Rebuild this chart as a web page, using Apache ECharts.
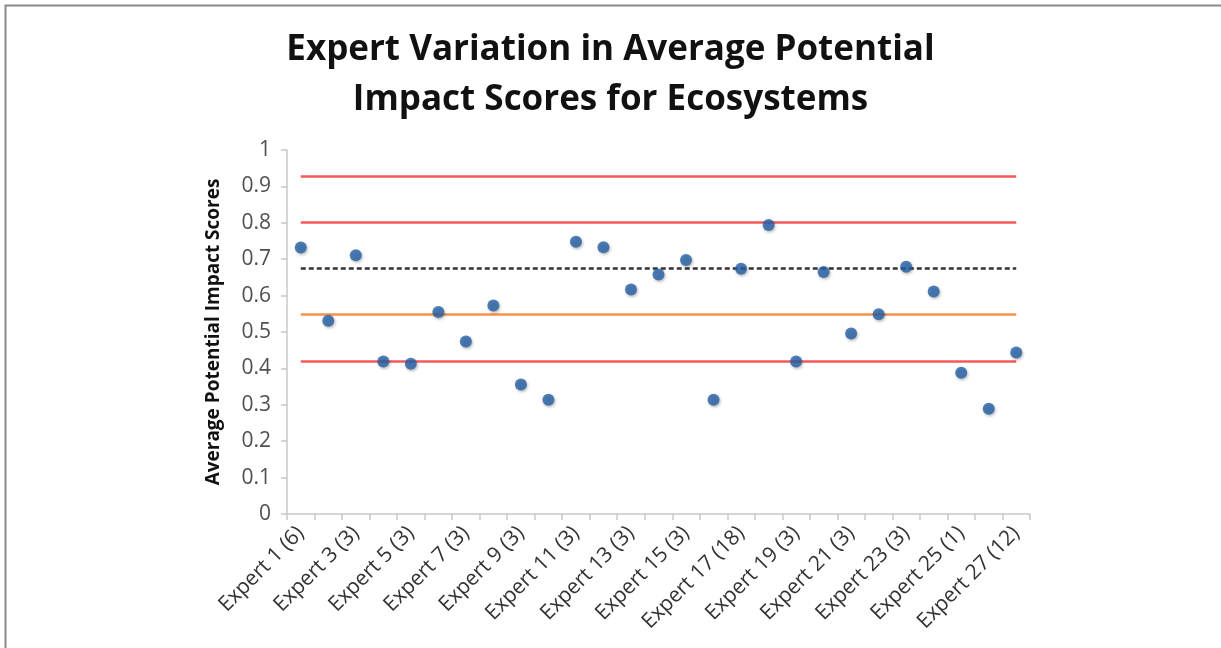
<!DOCTYPE html>
<html>
<head>
<meta charset="utf-8">
<script src="https://cdn.jsdelivr.net/npm/echarts@6/dist/echarts.min.js"></script>
<style>
  html, body { margin: 0; padding: 0; background: #fff; }
  #chart { width: 1221px; height: 648px; }
</style>
</head>
<body>
<div id="chart"></div>
<script>
// Experts (number of assessments in brackets where shown on the axis)
const experts = [
  'Expert 1 (6)', 'Expert 2', 'Expert 3 (3)', 'Expert 4', 'Expert 5 (3)', 'Expert 6',
  'Expert 7 (3)', 'Expert 8', 'Expert 9 (3)', 'Expert 10', 'Expert 11 (3)', 'Expert 12',
  'Expert 13 (3)', 'Expert 14', 'Expert 15 (3)', 'Expert 16', 'Expert 17 (18)', 'Expert 18',
  'Expert 19 (3)', 'Expert 20', 'Expert 21 (3)', 'Expert 22', 'Expert 23 (3)', 'Expert 24',
  'Expert 25 (1)', 'Expert 26', 'Expert 27 (12)'
];

// Average potential impact score per expert
const scores = [
  0.732, 0.531, 0.711, 0.419, 0.413, 0.555,
  0.474, 0.573, 0.356, 0.314, 0.748, 0.733,
  0.617, 0.658, 0.698, 0.314, 0.674, 0.794,
  0.419, 0.665, 0.496, 0.549, 0.679, 0.611,
  0.388, 0.289, 0.444
];

// Reference levels
const redLevels = [0.928, 0.801, 0.421];
const orangeLevel = [0.548];
const meanLevel = [0.674];

const chart = echarts.init(document.getElementById('chart'));
const FONT = '"Open Sans", Lato, sans-serif';
const first = experts[0];
const last = experts[experts.length - 1];

function levelLines(values) {
  return values.map(v => [{ coord: [first, v] }, { coord: [last, v] }]);
}

function refSeries(name, values, lineStyle) {
  return {
    name: name,
    type: 'line',
    data: [],
    silent: true,
    markLine: {
      symbol: 'none',
      silent: true,
      label: { show: false },
      lineStyle: lineStyle,
      emphasis: { disabled: true },
      data: levelLines(values)
    }
  };
}

chart.setOption({
  animation: false,
  backgroundColor: '#ffffff',
  textStyle: { fontFamily: FONT },
  graphic: [{
    type: 'polyline',
    shape: { points: [[5.5, 648], [5.5, 5.5], [1221, 5.5]] },
    style: { stroke: '#8a8a8a', lineWidth: 2, fill: null },
    silent: true
  }],
  title: {
    text: 'Expert Variation in Average Potential\nImpact Scores for Ecosystems',
    left: 'center',
    top: 20,
    textStyle: {
      fontFamily: FONT,
      fontSize: 35,
      fontWeight: 'bold',
      color: '#111',
      lineHeight: 50
    }
  },
  grid: { left: 287, right: 191, top: 150, bottom: 134 },
  xAxis: {
    type: 'category',
    data: experts,
    boundaryGap: true,
    axisLine: { lineStyle: { color: '#c8c8c8', width: 1.5 } },
    axisTick: { show: true, interval: 0, length: 6, lineStyle: { color: '#c8c8c8', width: 1.5 } },
    axisLabel: {
      interval: 1,
      rotate: 45,
      margin: 16,
      fontSize: 21,
      color: '#333333',
      fontFamily: FONT
    },
    splitLine: { show: false }
  },
  yAxis: {
    type: 'value',
    min: 0,
    max: 1,
    interval: 0.1,
    name: 'Average Potential Impact Scores',
    nameLocation: 'middle',
    nameGap: 64,
    nameTextStyle: { fontSize: 19, fontWeight: 'bold', color: '#111', fontFamily: FONT },
    axisLine: { show: true, lineStyle: { color: '#c8c8c8', width: 1.5 } },
    axisTick: { show: true, length: 6, lineStyle: { color: '#c8c8c8', width: 1.5 } },
    axisLabel: { fontSize: 21, color: '#505050', margin: 16, fontFamily: FONT },
    splitLine: { show: false }
  },
  series: [
    refSeries('High levels', redLevels, { color: '#f4474a', width: 2.5, type: 'solid', opacity: 0.9 }),
    refSeries('Mid level', orangeLevel, { color: '#f7904a', width: 2.5, type: 'solid' }),
    refSeries('Mean', meanLevel, { color: '#333333', width: 2.5, type: [5, 3] }),
    {
      name: 'Scores',
      type: 'scatter',
      data: scores,
      symbol: 'circle',
      symbolSize: 12,
      z: 5,
      itemStyle: {
        color: '#2560a6',
        shadowColor: 'rgba(0,0,0,0.35)',
        shadowBlur: 3,
        shadowOffsetX: 1,
        shadowOffsetY: 1.5
      }
    }
  ]
});
</script>
</body>
</html>
